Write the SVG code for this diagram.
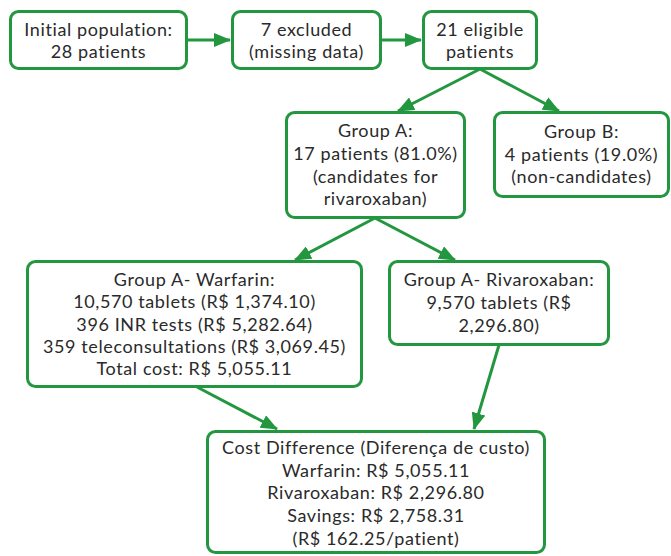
<svg xmlns="http://www.w3.org/2000/svg" width="671" height="556" viewBox="0 0 671 556">
<defs>
<style>
.box{fill:#fff;stroke:#23973f;stroke-width:3}
.t{font-family:Lato,"Open Sans",sans-serif;font-size:18px;letter-spacing:0.6px;fill:#2a2a2a;text-anchor:middle}
.c{stroke:#23973f;stroke-width:3;fill:none}
</style>
<marker id="ah" markerUnits="userSpaceOnUse" markerWidth="18" markerHeight="14" refX="16" refY="7" orient="auto">
<path d="M0,0 L17,7 L0,14 z" fill="#23973f"/>
</marker>
</defs>
<rect width="671" height="556" fill="#fff"/>
<g id="connectors">
<line class="c" x1="187" y1="40" x2="230" y2="40" marker-end="url(#ah)"/>
<line class="c" x1="381" y1="40" x2="421" y2="40" marker-end="url(#ah)"/>
<line class="c" x1="480" y1="69" x2="398" y2="111" marker-end="url(#ah)"/>
<line class="c" x1="480" y1="69" x2="559" y2="111" marker-end="url(#ah)"/>
<line class="c" x1="375" y1="218" x2="295" y2="260" marker-end="url(#ah)"/>
<line class="c" x1="375" y1="218" x2="455" y2="260" marker-end="url(#ah)"/>
<line class="c" x1="197" y1="387" x2="277" y2="429" marker-end="url(#ah)"/>
<line class="c" x1="499" y1="345" x2="474" y2="429" marker-end="url(#ah)"/>
</g>
<g id="n1">
<rect class="box" x="10.5" y="11.5" width="176" height="57" rx="8"/>
<text class="t" x="98.5" y="36">Initial population:</text>
<text class="t" x="98.5" y="58">28 patients</text>
</g>
<g id="n2">
<rect class="box" x="232.5" y="11.5" width="148" height="57" rx="8"/>
<text class="t" x="306.5" y="36">7 excluded</text>
<text class="t" x="306.5" y="58">(missing data)</text>
</g>
<g id="n3">
<rect class="box" x="423.5" y="11.5" width="113" height="57" rx="8"/>
<text class="t" x="480" y="36">21 eligible</text>
<text class="t" x="480" y="58">patients</text>
</g>
<g id="n4">
<rect class="box" x="286.5" y="112.5" width="178" height="105" rx="8"/>
<text class="t" x="375.5" y="137">Group A:</text>
<text class="t" x="375.5" y="160">17 patients (81.0%)</text>
<text class="t" x="375.5" y="183">(candidates for</text>
<text class="t" x="375.5" y="205">rivaroxaban)</text>
</g>
<g id="n5">
<rect class="box" x="494.5" y="112.5" width="174" height="84" rx="8"/>
<text class="t" x="581.5" y="138">Group B:</text>
<text class="t" x="581.5" y="161">4 patients (19.0%)</text>
<text class="t" x="581.5" y="183">(non-candidates)</text>
</g>
<g id="n6">
<rect class="box" x="27.5" y="261.5" width="334" height="125" rx="8"/>
<text class="t" x="194.5" y="286">Group A- Warfarin:</text>
<text class="t" x="194.5" y="308">10,570 tablets (R$ 1,374.10)</text>
<text class="t" x="194.5" y="331">396 INR tests (R$ 5,282.64)</text>
<text class="t" x="194.5" y="353">359 teleconsultations (R$ 3,069.45)</text>
<text class="t" x="194.5" y="375">Total cost: R$ 5,055.11</text>
</g>
<g id="n7">
<rect class="box" x="389.5" y="261.5" width="219" height="83" rx="8"/>
<text class="t" x="499" y="286">Group A- Rivaroxaban:</text>
<text class="t" x="499" y="309">9,570 tablets (R$</text>
<text class="t" x="499" y="332">2,296.80)</text>
</g>
<g id="n8">
<rect class="box" x="207.5" y="431.5" width="337" height="121" rx="8"/>
<text class="t" x="376" y="454">Cost Difference (Diferença de custo)</text>
<text class="t" x="376" y="477">Warfarin: R$ 5,055.11</text>
<text class="t" x="376" y="499">Rivaroxaban: R$ 2,296.80</text>
<text class="t" x="376" y="522">Savings: R$ 2,758.31</text>
<text class="t" x="376" y="545">(R$ 162.25/patient)</text>
</g>
</svg>
